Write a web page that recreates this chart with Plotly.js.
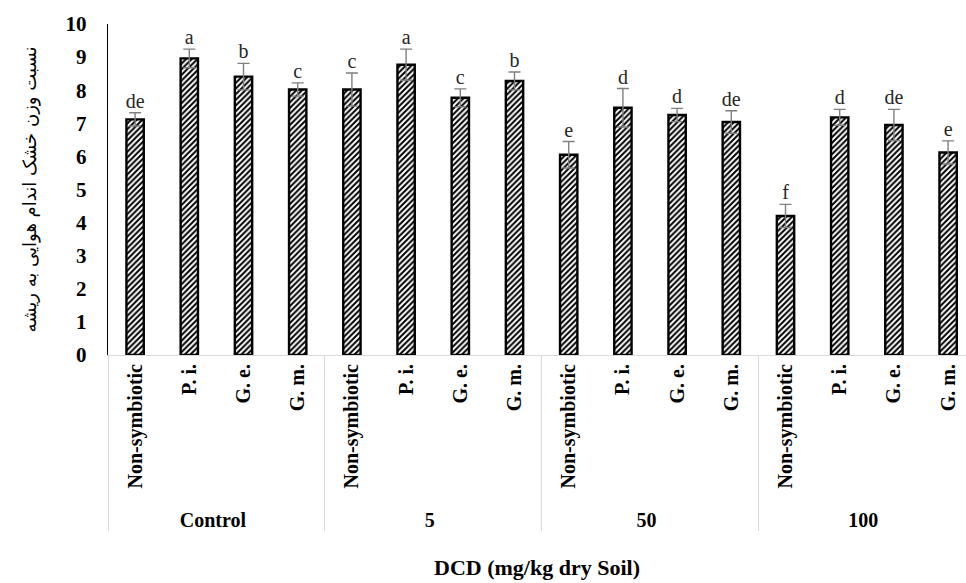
<!DOCTYPE html>
<html>
<head>
<meta charset="utf-8">
<script src="https://cdn.plot.ly/plotly-3.0.1.min.js"></script>
<style>html,body{margin:0;padding:0;background:#fff;}#chart{width:966px;height:583px;}</style>
</head>
<body>
<div id="chart"></div>
<script>
var groups = ["Control","Control","Control","Control","5","5","5","5","50","50","50","50","100","100","100","100"];
var treatments = ["Non-symbiotic","P. i.","G. e.","G. m.","Non-symbiotic","P. i.","G. e.","G. m.","Non-symbiotic","P. i.","G. e.","G. m.","Non-symbiotic","P. i.","G. e.","G. m."];
var values = [7.12, 8.96, 8.41, 8.02, 8.02, 8.77, 7.77, 8.28, 6.05, 7.47, 7.25, 7.04, 4.20, 7.18, 6.95, 6.12];
var errors = [0.20, 0.28, 0.40, 0.20, 0.50, 0.47, 0.27, 0.27, 0.40, 0.58, 0.20, 0.34, 0.35, 0.24, 0.47, 0.35];
var letters = ["de","a","b","c","c","a","c","b","e","d","d","de","f","d","de","e"];

var labelY = values.map(function(v,i){ return v + errors[i]; });

var serif = "Liberation Serif, Times New Roman, serif";

var bars = {
  type: "bar",
  x: [groups, treatments],
  y: values,
  width: 0.32,
  marker: {
    color: "#ffffff",
    line: {color: "#000000", width: 2.4},
    pattern: {shape: "/", fgcolor: "#000000", bgcolor: "#ffffff", size: 4, solidity: 0.5}
  },
  error_y: {type: "data", array: errors, visible: true, color: "#7f7f7f", thickness: 1.4, width: 6},
  hoverinfo: "y",
  showlegend: false
};

var text = {
  type: "scatter",
  mode: "text",
  x: [groups, treatments],
  y: labelY,
  text: letters,
  textposition: "top center",
  textfont: {family: serif, size: 20, color: "#262626"},
  hoverinfo: "skip",
  showlegend: false,
  cliponaxis: false
};

var layout = {
  width: 966,
  height: 583,
  margin: {l: 108, r: 0, t: 24, b: 228},
  paper_bgcolor: "#ffffff",
  plot_bgcolor: "#ffffff",
  bargap: 0.6,
  xaxis: {
    type: "multicategory",
    range: [-0.5, 15.33],
    tickangle: -90,
    tickfont: {family: serif, size: 20, color: "#000000", weight: "bold"},
    showline: true,
    linecolor: "#d9d9d9",
    linewidth: 1,
    ticks: "",
    showgrid: false,
    showdividers: true,
    dividercolor: "#d9d9d9",
    dividerwidth: 1,
    title: {text: "<b>DCD (mg/kg dry Soil)</b>", font: {family: serif, size: 22, color: "#000000"}, standoff: 30}
  },
  yaxis: {
    range: [0, 10],
    dtick: 1,
    showgrid: false,
    zeroline: false,
    showline: true,
    linecolor: "#000000",
    linewidth: 1.2,
    ticks: "outside",
    ticklen: 16,
    tickcolor: "rgba(0,0,0,0)",
    tickfont: {family: serif, size: 21, color: "#000000", weight: "bold"},
    title: {text: "نسبت وزن خشک اندام هوایی به ریشه", font: {family: "DejaVu Sans, Noto Sans, sans-serif", size: 18, color: "#000000"}, standoff: 24}
  }
};

Plotly.newPlot("chart", [bars, text], layout, {displayModeBar: false, staticPlot: true});
</script>
</body>
</html>
